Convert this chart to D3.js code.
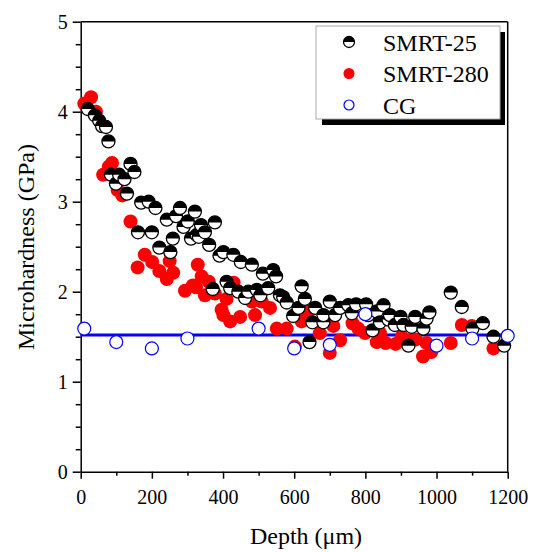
<!DOCTYPE html>
<html>
<head>
<meta charset="utf-8">
<script src="https://cdn.jsdelivr.net/npm/d3@7"></script>
<style>
  html, body { margin: 0; padding: 0; background: #fff; overflow: hidden; }
  svg { display: block; }
  text { font-family: "Liberation Serif", "Times New Roman", serif; fill: #000; }
</style>
</head>
<body>
<div id="chart"></div>
<script>
// data
const smrt25Depth = [20, 40, 52, 60, 71, 78, 85, 99, 108, 123, 130, 140, 151, 161, 170, 191, 200, 210, 221, 242,
  252, 259, 268, 279, 289, 301, 310, 321, 326, 332, 338, 349, 361, 371, 377, 390, 401, 410, 420, 429,
  443, 450, 462, 471, 481, 495, 505, 512, 527, 541, 549, 560, 569, 579, 597, 612, 621, 630, 643, 651,
  659, 682, 682, 700, 715, 729, 752, 762, 774, 802, 808, 820, 832, 841, 851, 865, 869, 883, 899, 907,
  921, 930, 940, 963, 972, 980, 1040, 1071, 1101, 1130, 1160, 1190]
const smrt25Hard = [4.03, 3.96, 3.90, 3.84, 3.83, 3.67, 3.30, 3.20, 3.30, 3.25, 3.09, 3.42, 3.33, 2.66, 2.99, 3.00, 2.66, 2.93, 2.49, 2.80,
  2.44, 2.59, 2.84, 2.93, 2.72, 2.78, 2.59, 2.89, 2.63, 2.61, 2.74, 2.66, 2.52, 2.03, 2.77, 2.40, 2.44, 2.11, 2.04, 2.41,
  2.00, 2.33, 1.93, 2.00, 2.30, 2.02, 1.96, 2.20, 2.04, 2.24, 2.17, 1.96, 1.94, 1.88, 1.73, 1.82, 2.06, 1.92, 1.44, 1.66,
  1.82, 1.66, 1.74, 1.89, 1.74, 1.82, 1.85, 1.76, 1.86, 1.86, 1.74, 1.57, 1.78, 1.66, 1.85, 1.69, 1.74, 1.63, 1.72, 1.63,
  1.40, 1.61, 1.72, 1.59, 1.70, 1.77, 1.99, 1.83, 1.59, 1.65, 1.50, 1.40]

const smrt280Depth = [10, 29, 43, 63, 79, 88, 104, 117, 140, 160, 180, 201, 221, 242, 250, 260, 293, 315, 324, 329,
  340, 349, 360, 377, 396, 401, 410, 420, 430, 448, 481, 490, 509, 532, 551, 579, 602, 621, 630, 640,
  672, 700, 710, 729, 764, 780, 799, 832, 841, 857, 885, 902, 916, 942, 962, 972, 985, 1040, 1071, 1099, 1160]
const smrt280Hard = [4.09, 4.16, 4.00, 3.30, 3.39, 3.43, 3.13, 3.07, 2.78, 2.27, 2.41, 2.33, 2.23, 2.14, 2.34, 2.21, 2.01, 2.07, 2.05, 2.30,
  2.17, 1.96, 2.11, 1.98, 1.80, 1.74, 1.92, 1.67, 2.10, 1.72, 1.89, 1.74, 1.89, 1.82, 1.59, 1.59, 1.39, 1.67, 1.69, 1.78,
  1.54, 1.32, 1.62, 1.46, 1.65, 1.59, 1.54, 1.44, 1.54, 1.43, 1.42, 1.50, 1.46, 1.47, 1.28, 1.43, 1.33, 1.43, 1.63, 1.62, 1.37]

const cgDepth = [10, 100, 200, 300, 500, 600, 700, 800, 1000, 1100, 1200]
const cgHard = [1.59, 1.44, 1.37, 1.48, 1.59, 1.37, 1.41, 1.75, 1.40, 1.48, 1.51]
const cgMean = 1.52

const xTicks = [0, 200, 400, 600, 800, 1000, 1200]
const yTicks = [0, 1, 2, 3, 4, 5]
const legendNames = ["SMRT-25", "SMRT-280", "CG"]

const width = 534, height = 552
const margin = {top: 21.7, right: 26.3, bottom: 80.3, left: 80.7}
const innerWidth = width - margin.left - margin.right
const innerHeight = height - margin.top - margin.bottom

const svg = d3.select("#chart").append("svg")
              .attr("width", width)
              .attr("height", height)
const chart = svg.append("g")
                 .attr("transform", `translate(${margin.left}, ${margin.top})`)

const xScale = d3.scaleLinear().domain([0, 1200]).range([0, innerWidth])
const yScale = d3.scaleLinear().domain([0, 5]).range([innerHeight, 0])

// minor ticks (no labels)
chart.append("g")
     .attr("transform", `translate(0, ${innerHeight})`)
     .call(d3.axisBottom(xScale).tickValues(d3.range(100, 1200, 200)).tickSize(4).tickSizeOuter(0))
     .call(g => g.select(".domain").remove())
     .call(g => g.selectAll("text").remove())
chart.append("g")
     .call(d3.axisLeft(yScale).tickValues(d3.range(0, 5, 0.25).filter(v => v % 1 !== 0)).tickSize(5).tickSizeOuter(0))
     .call(g => g.select(".domain").remove())
     .call(g => g.selectAll("text").remove())

// major axes
chart.append("g")
     .attr("class", "x-axis")
     .attr("transform", `translate(0, ${innerHeight})`)
     .call(d3.axisBottom(xScale).tickValues(xTicks).tickFormat(d3.format("d")).tickSize(7).tickSizeOuter(0).tickPadding(11))
chart.append("g")
     .attr("class", "y-axis")
     .call(d3.axisLeft(yScale).tickValues(yTicks).tickFormat(d3.format("d")).tickSize(8).tickSizeOuter(0).tickPadding(5))
svg.selectAll(".x-axis, .y-axis")
   .attr("font-family", null)
   .attr("font-size", null)
svg.selectAll(".x-axis text, .y-axis text")
   .style("font-size", "20px")
   .style("font-family", "'Liberation Serif', serif")
svg.selectAll(".domain, .tick line").attr("stroke", "#000").attr("stroke-width", 1.5)

// frame top and right
chart.append("line")
     .attr("x1", 0).attr("x2", innerWidth).attr("y1", 0).attr("y2", 0)
     .attr("stroke", "#000").attr("stroke-width", 1.5)
chart.append("line")
     .attr("x1", innerWidth).attr("x2", innerWidth).attr("y1", 0).attr("y2", innerHeight)
     .attr("stroke", "#000").attr("stroke-width", 1.5)

// CG mean line
chart.append("line")
     .attr("x1", xScale(0)).attr("x2", xScale(1200))
     .attr("y1", yScale(cgMean)).attr("y2", yScale(cgMean))
     .attr("stroke", "#0000ff").attr("stroke-width", 3)

const r = 7
const halfTop = rr => `M${-rr},0A${rr},${rr} 0 0 1 ${rr},0Z`

function drawHalf(g, rr) {
    g.append("circle").attr("r", rr).attr("fill", "#fff")
    g.append("path").attr("d", halfTop(rr)).attr("fill", "#000")
    g.append("circle").attr("r", rr).attr("fill", "none").attr("stroke", "#000").attr("stroke-width", 1.3)
}

// SMRT-280
chart.append("g")
     .selectAll("circle")
     .data(d3.range(smrt280Depth.length))
     .join("circle")
     .attr("cx", i => xScale(smrt280Depth[i]))
     .attr("cy", i => yScale(smrt280Hard[i]))
     .attr("r", r)
     .attr("fill", "#ff0000")

// SMRT-25
chart.append("g")
     .selectAll("g")
     .data(d3.range(smrt25Depth.length))
     .join("g")
     .attr("transform", i => `translate(${xScale(smrt25Depth[i])}, ${yScale(smrt25Hard[i])})`)
     .each(function () { drawHalf(d3.select(this), r - 0.5) })

// CG
chart.append("g")
     .selectAll("circle")
     .data(d3.range(cgDepth.length))
     .join("circle")
     .attr("cx", i => xScale(cgDepth[i]))
     .attr("cy", i => yScale(cgHard[i]))
     .attr("r", r - 0.5)
     .attr("fill", "#fff")
     .attr("stroke", "#0000ff")
     .attr("stroke-width", 1.2)

// axis titles
svg.append("text")
   .attr("x", 306)
   .attr("y", 544)
   .attr("text-anchor", "middle")
   .attr("font-size", "24px")
   .text("Depth (\u03bcm)")
svg.append("text")
   .attr("transform", "translate(34, 247) rotate(-90)")
   .attr("text-anchor", "middle")
   .attr("font-size", "24px")
   .text("Microhardness (GPa)")

// legend
svg.append("rect")
   .attr("x", 322).attr("y", 32).attr("width", 183).attr("height", 93)
   .attr("fill", "#000")
svg.append("rect")
   .attr("x", 316).attr("y", 26).attr("width", 184).attr("height", 93)
   .attr("fill", "#fff").attr("stroke", "#aaa").attr("stroke-width", 1)
const rowY = [42, 73.5, 105]
drawHalf(svg.append("g").attr("transform", `translate(349, ${rowY[0]})`), 5.5)
svg.append("circle").attr("cx", 349).attr("cy", rowY[1]).attr("r", 5.5).attr("fill", "#ff0000")
svg.append("circle").attr("cx", 349).attr("cy", rowY[2]).attr("r", 5).attr("fill", "#fff")
   .attr("stroke", "#0000ff").attr("stroke-width", 1.2)
svg.selectAll(".legend-label")
   .data(legendNames)
   .join("text")
   .attr("class", "legend-label")
   .attr("x", 383)
   .attr("y", (d, i) => rowY[i] + 8.5)
   .attr("font-size", "24px")
   .text(d => d)
</script>
</body>
</html>
